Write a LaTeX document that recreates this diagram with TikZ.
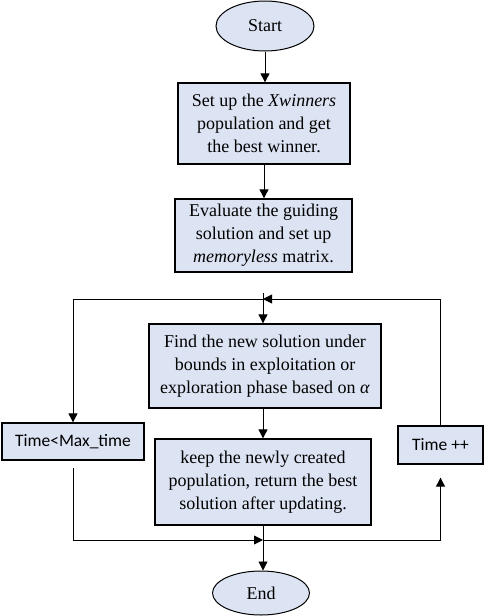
\documentclass[tikz,border=0pt]{standalone}
\usepackage{fontspec}
\setmainfont{Liberation Serif}
\newfontfamily\calib{Carlito}
\usetikzlibrary{shapes.geometric,arrows.meta}
\definecolor{boxfill}{RGB}{220,228,243}
\begin{document}
\begin{tikzpicture}[x=1pt,y=-1pt,
  box/.style={draw, fill=boxfill, line width=1.3pt, align=center,
    font=\fontsize{18}{23}\selectfont, inner sep=0pt},
  term/.style={draw, ellipse, fill=boxfill, line width=1pt, inner sep=0pt,
    font=\fontsize{18}{23}\selectfont},
  sbox/.style={draw, fill=boxfill, line width=1.3pt, inner sep=0pt,
    font=\calib\fontsize{17.5}{21}\selectfont},
  arr/.style={-{Triangle[length=9pt,width=9pt]}, line width=0.9pt}]
\useasboundingbox (0,0) rectangle (484,616);

\node[term, minimum width=98pt, minimum height=50pt] (start) at (265,26) {Start};
\node[box, minimum width=172pt, minimum height=81pt] (b1) at (264,123.5)
  {Set up the \textit{Xwinners}\\ population and get\\ the best winner.};
\node[box, minimum width=177pt, minimum height=73pt] (b2) at (263.5,235.5)
  {Evaluate the guiding\\ solution and set up\\ \textit{memoryless} matrix.};
\node[box, minimum width=232pt, minimum height=84pt] (b3) at (265,366)
  {Find the new solution under\\ bounds in exploitation or\\ exploration phase based on \textit{α}};
\node[box, minimum width=216pt, minimum height=86pt] (b4) at (263,482)
  {keep the newly created\\ population, return the best\\ solution after updating.};
\node[sbox, minimum width=142pt, minimum height=37pt] (tmax) at (73,441.5) {Time<Max\_time};
\node[sbox, minimum width=85pt, minimum height=38pt] (tpp) at (440.5,445) {Time ++};
\node[term, minimum width=97pt, minimum height=44pt] (end) at (261,593) {End};

\coordinate (jt) at (263,299);
\coordinate (jtop) at (263,293);
\coordinate (jb) at (263,540);

\draw[arr] (start.south) -- (start.south |- b1.north);
\draw[arr] (b1.south) -- (b1.south |- b2.north);
\draw[arr] (jtop) -- (jtop |- b3.north);
\draw[arr] (jt) -| (tmax.north);
\draw[arr] (tpp.north) |- (jt);
\draw[arr] (b3.south -| jt) -- (jt |- b4.north);
\draw[arr, shorten <=7pt] (tmax.south) |- (jb);
\draw[arr, shorten >=13pt] (jb) -| (tpp.south);
\draw[arr] (b4.south -| jb) -- (jb |- end.north);
\end{tikzpicture}
\end{document}
